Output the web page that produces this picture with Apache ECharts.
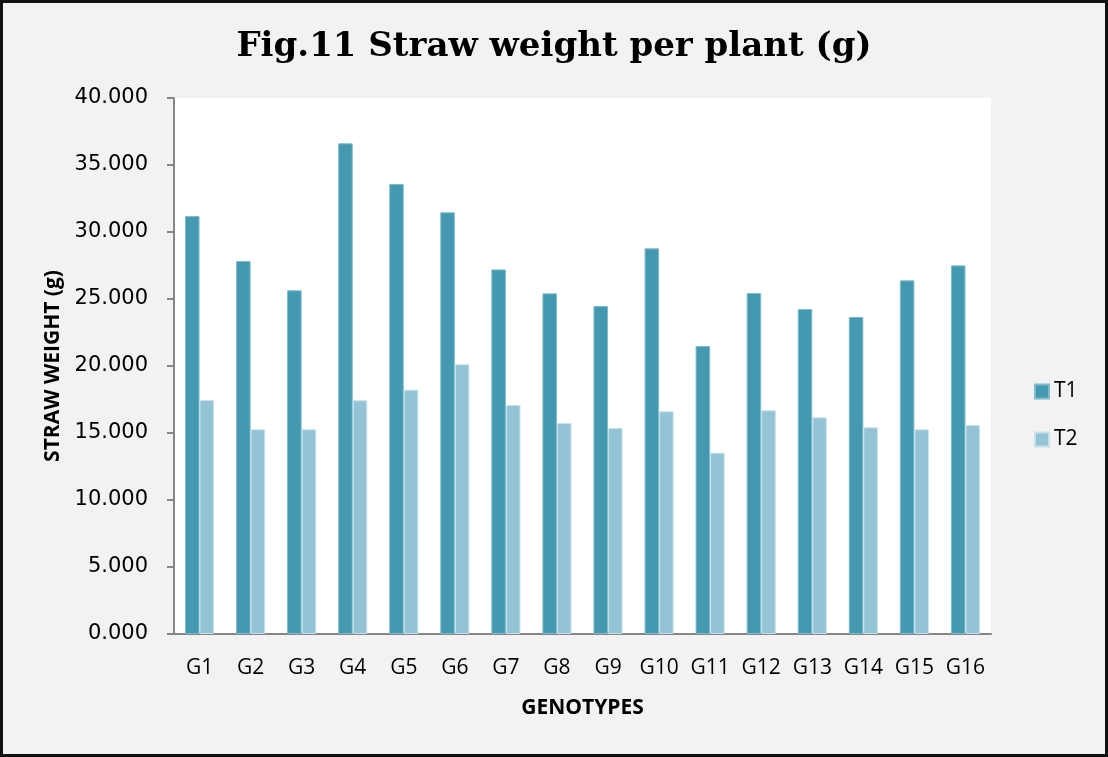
<!DOCTYPE html>
<html>
<head>
<meta charset="utf-8">
<script src="https://cdn.jsdelivr.net/npm/echarts@6/dist/echarts.min.js"></script>
<style>
html,body{margin:0;padding:0;background:#f2f2f2;}
#frame{position:absolute;left:0;top:0;width:1102px;height:751px;border:3px solid #111;background:#f2f2f2;}
#chart{width:1102px;height:751px;}
</style>
</head>
<body>
<div id="frame"><div id="chart"></div></div>
<script>
const categories = ['G1','G2','G3','G4','G5','G6','G7','G8','G9','G10','G11','G12','G13','G14','G15','G16'];
const t1 = [31.19, 27.84, 25.65, 36.62, 33.58, 31.47, 27.21, 25.42, 24.48, 28.78, 21.49, 25.45, 24.25, 23.66, 26.39, 27.51];
const t2 = [17.46, 15.28, 15.28, 17.44, 18.23, 20.13, 17.09, 15.75, 15.37, 16.62, 13.53, 16.69, 16.17, 15.42, 15.28, 15.60];
const yTicks = [0, 5, 10, 15, 20, 25, 30, 35, 40];

const chart = echarts.init(document.getElementById('chart'), null, {renderer: 'canvas'});
chart.setOption({
  backgroundColor: '#f2f2f2',
  animation: false,
  title: {
    text: 'Fig.11 Straw weight per plant (g)',
    left: 546, top: 22, textAlign: 'center',
    textStyle: {fontFamily: 'DejaVu Serif', fontWeight: 'bold', fontSize: 34, color: '#000'}
  },
  legend: {
    orient: 'vertical',
    left: 1026, top: 373,
    itemWidth: 14, itemHeight: 14, itemGap: 27,
    icon: 'rect',
    textStyle: {fontFamily: 'Open Sans', fontSize: 21, color: '#000'},
    data: ['T1', 'T2']
  },
  grid: {left: 171, top: 95, width: 817, height: 536, containLabel: false, show: true, backgroundColor: '#ffffff', borderWidth: 0},
  xAxis: {
    type: 'category',
    data: categories,
    axisLine: {lineStyle: {color: '#868686', width: 2}},
    axisTick: {show: false},
    axisLabel: {fontFamily: 'Open Sans', fontSize: 21, color: '#000', margin: 24, interval: 0},
    name: 'GENOTYPES',
    nameLocation: 'middle',
    nameGap: 64,
    nameTextStyle: {fontFamily: 'Open Sans', fontWeight: 'bold', fontSize: 21, color: '#000'}
  },
  yAxis: {
    type: 'value',
    min: yTicks[0], max: yTicks[yTicks.length - 1], interval: 5,
    axisLine: {show: true, lineStyle: {color: '#868686', width: 2}},
    axisTick: {show: true, length: 7, lineStyle: {color: '#868686', width: 2}},
    splitLine: {show: false},
    axisLabel: {fontFamily: 'DejaVu Sans', fontSize: 21, color: '#000', margin: 26,
      formatter: v => v.toFixed(3)},
    name: 'STRAW WEIGHT (g)',
    nameLocation: 'middle',
    nameGap: 106,
    nameTextStyle: {fontFamily: 'Open Sans', fontWeight: 'bold', fontSize: 21, color: '#000'}
  },
  series: [
    {name: 'T1', type: 'bar', data: t1, barGap: '0%', barCategoryGap: '43%',
     itemStyle: {color: '#4499B1', borderColor: '#7dbccc', borderWidth: 1}},
    {name: 'T2', type: 'bar', data: t2,
     itemStyle: {color: '#93C3D5', borderColor: '#c7e2ec', borderWidth: 1}}
  ]
});
</script>
</body>
</html>
